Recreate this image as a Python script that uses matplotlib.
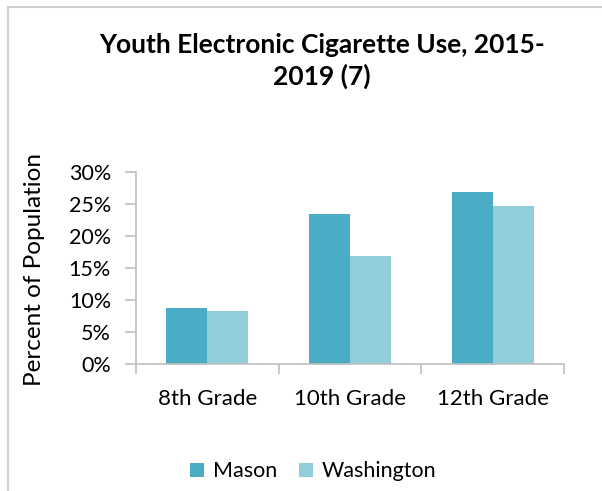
import numpy as np
import matplotlib.pyplot as plt

grades = ['8th Grade', '10th Grade', '12th Grade']
mason = [0.088, 0.234, 0.268]
washington = [0.083, 0.169, 0.247]
yticks = [0, 0.05, 0.10, 0.15, 0.20, 0.25, 0.30]

plt.rcParams['font.family'] = ['Lato', 'DejaVu Sans']
axis_grey = '#BFBFBF'

fig = plt.figure(figsize=(6.02, 4.91), dpi=100)
ax = fig.add_axes([0.2259, 0.2587, 0.711, 0.391])

x = np.arange(len(grades))
w = 0.287
ax.bar(x - w / 2, mason, w, color='#4BACC6', label='Mason', linewidth=0)
ax.bar(x + w / 2, washington, w, color='#92CDDC', label='Washington', linewidth=0)

ax.set_xlim(-0.5, len(grades) - 0.5)
ax.set_ylim(0, 0.30)
ax.set_yticks(yticks)
ax.set_yticklabels([f'{v * 100:.0f}%' for v in yticks], fontsize=15.5)
ax.set_xticks(x)
ax.set_xticklabels(grades, fontsize=16)
ax.tick_params(axis='x', length=0, pad=18)
ax.tick_params(axis='y', length=8, color=axis_grey, width=1.2, pad=10)
# category separators below the x axis
ax.set_xticks(np.arange(len(grades) + 1) - 0.5, minor=True)
ax.tick_params(axis='x', which='minor', length=7, color=axis_grey, width=1.2)

for s in ['top', 'right']:
    ax.spines[s].set_visible(False)
for s in ['left', 'bottom']:
    ax.spines[s].set_color(axis_grey)
    ax.spines[s].set_linewidth(1.2)

fig.text(0.058, 0.452, 'Percent of Population', rotation=90, fontsize=17.5,
         ha='center', va='center')

fig.text(0.535, 0.876, 'Youth Electronic Cigarette Use, 2015-\n2019 (7)',
         ha='center', va='center', fontsize=19, fontweight='bold',
         linespacing=1.3)

fig.legend(loc='center', bbox_to_anchor=(0.52, 0.04), ncol=2, frameon=False,
           fontsize=15.5, handlelength=0.65, handleheight=0.65,
           handletextpad=0.4, columnspacing=1.0)

# light frame along top and left edges
fig.add_artist(plt.Line2D([8 / 602, 8 / 602], [0, 1 - 7 / 491],
                          transform=fig.transFigure, color='#D0D0D0', lw=1.5))
fig.add_artist(plt.Line2D([8 / 602, 1], [1 - 7 / 491, 1 - 7 / 491],
                          transform=fig.transFigure, color='#D0D0D0', lw=1.5))

fig.savefig('out.png', dpi=100)
